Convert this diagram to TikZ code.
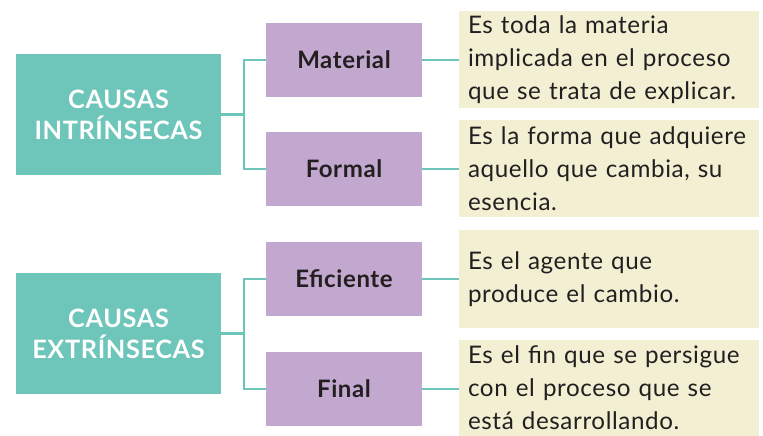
\documentclass[tikz,border=0pt]{standalone}
\usepackage{fontspec}
\setmainfont{Lato}[LetterSpace=2.5]
\definecolor{tealc}{HTML}{6DC6B9}
\definecolor{purplec}{HTML}{C2A8CE}
\definecolor{creamc}{HTML}{F3EFD3}
\definecolor{inkc}{HTML}{231F20}
\tikzset{
  causebox/.style={fill=tealc, text=white, align=center, minimum width=205pt, minimum height=121pt, inner sep=0pt,
    font=\fontsize{25.3}{31}\selectfont\bfseries},
  kindbox/.style={fill=purplec, text=inkc, minimum width=156pt, minimum height=74pt, inner sep=0pt,
    font=\fontsize{24}{26}\selectfont\bfseries},
  descbox/.style={fill=creamc, text=inkc, text width=282pt, align=left, inner xsep=9pt, inner ysep=0pt,
    minimum width=300pt, font=\fontsize{24.2}{33}\selectfont},
  link/.style={draw=tealc, line width=2.5pt}
}
\begin{document}
\begin{tikzpicture}[x=1pt,y=-1pt]
\useasboundingbox (0,0) rectangle (763,436);
\node[causebox] (ci) at (118.5,114.5) {CAUSAS\\INTRÍNSECAS};
\node[causebox] (ce) at (118.5,333.5) {CAUSAS\\EXTRÍNSECAS};
\node[kindbox] (mat) at (344,60) {Material};
\node[kindbox] (for) at (344,169) {Formal};
\node[kindbox] (efi) at (344,279) {Eficiente};
\node[kindbox] (fin) at (344,389) {Final};
\node[descbox, minimum height=97pt] (d1) at (609,59.5) {Es toda la materia\\implicada en el proceso\\que se trata de explicar.};
\node[descbox, minimum height=97pt] (d2) at (609,168.5) {Es la forma que adquiere\\aquello que cambia, su\\esencia.};
\node[descbox, minimum height=98pt] (d3) at (609,279) {Es el agente que\\produce el cambio.};
\node[descbox, minimum height=96pt] (d4) at (609,388) {Es el fin que se persigue\\con el proceso que se\\está desarrollando.};
\coordinate (j1) at (244,0);
\draw[link] (ci.east) -- (ci.east -| j1);
\draw[link] (mat.west) -- (mat.west -| j1) -- (for.west -| j1) -- (for.west);
\draw[link] (ce.east) -- (ce.east -| j1);
\draw[link] (efi.west) -- (efi.west -| j1) -- (fin.west -| j1) -- (fin.west);
\draw[link] (mat.east) -- (mat.east -| d1.west);
\draw[link] (for.east) -- (for.east -| d2.west);
\draw[link] (efi.east) -- (efi.east -| d3.west);
\draw[link] (fin.east) -- (fin.east -| d4.west);
\end{tikzpicture}
\end{document}
